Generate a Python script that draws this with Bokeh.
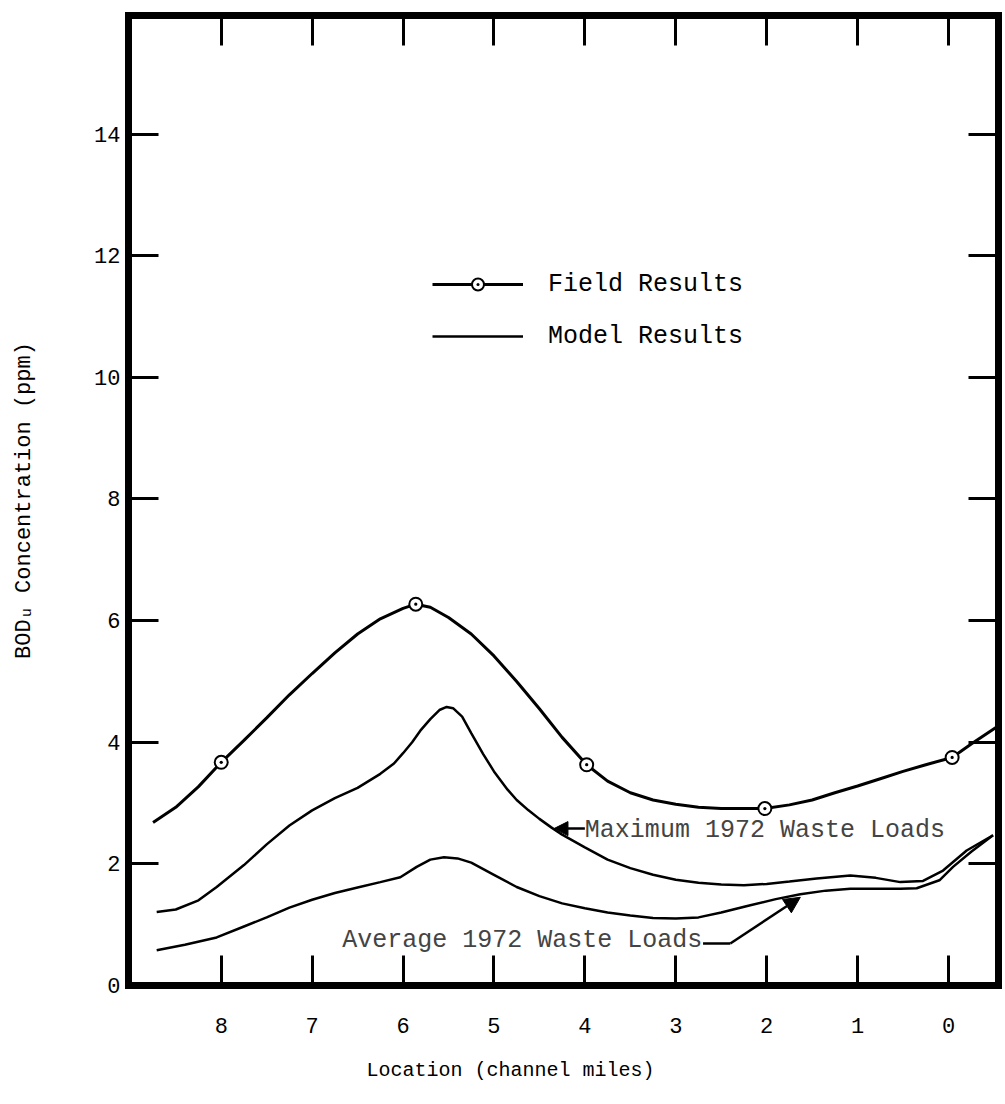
from bokeh.plotting import figure
from bokeh.models import (Range1d, LinearAxis, FixedTicker, Label, Arrow,
                          NormalHead, Legend, LegendItem, Title)
from bokeh.embed import file_html
from bokeh.resources import INLINE

# ---------------- data ----------------
x_ticks = [8, 7, 6, 5, 4, 3, 2, 1, 0]
y_ticks = [0, 2, 4, 6, 8, 10, 12, 14]
y_ticks_right = [2, 4, 6, 8, 10, 12, 14]

# Field results: measured points
field_x = [8.0, 5.86, 3.98, 2.02, -0.04]
field_y = [3.67, 6.27, 3.63, 2.91, 3.75]

# curve drawn through the field results
field_curve_x = [8.75, 8.5, 8.25, 8.0, 7.75, 7.5, 7.25, 7.0, 6.75, 6.5, 6.25,
                 6.0, 5.86, 5.7, 5.5, 5.25, 5.0, 4.75, 4.5, 4.25, 3.98, 3.75,
                 3.5, 3.25, 3.0, 2.75, 2.5, 2.25, 2.02, 1.75, 1.5, 1.25, 1.0,
                 0.75, 0.5, 0.25, -0.04, -0.25, -0.53]
field_curve_y = [2.68, 2.93, 3.27, 3.67, 4.03, 4.40, 4.78, 5.13, 5.47, 5.78,
                 6.03, 6.20, 6.27, 6.22, 6.05, 5.78, 5.42, 5.00, 4.55, 4.08,
                 3.63, 3.36, 3.17, 3.05, 2.98, 2.93, 2.91, 2.91, 2.91, 2.97,
                 3.05, 3.17, 3.28, 3.40, 3.52, 3.63, 3.75, 3.97, 4.25]

# Model results, maximum 1972 waste loads
max_x = [8.71, 8.5, 8.25, 8.05, 7.75, 7.5, 7.25, 7.0, 6.75, 6.5, 6.25, 6.1,
         6.0, 5.9, 5.81, 5.7, 5.6, 5.52, 5.45, 5.35, 5.25, 5.12, 5.0, 4.85,
         4.75, 4.62, 4.5, 4.37, 4.25, 4.0, 3.75, 3.5, 3.25, 3.0, 2.75, 2.5,
         2.25, 2.0, 1.75, 1.45, 1.08, 0.8, 0.53, 0.28, 0.06, -0.2, -0.49]
max_y = [1.21, 1.25, 1.40, 1.62, 1.98, 2.32, 2.63, 2.88, 3.08, 3.25, 3.48,
         3.65, 3.82, 4.00, 4.19, 4.38, 4.53, 4.58, 4.56, 4.42, 4.15, 3.81,
         3.52, 3.22, 3.05, 2.88, 2.74, 2.60, 2.48, 2.27, 2.07, 1.93, 1.82,
         1.74, 1.69, 1.66, 1.65, 1.67, 1.71, 1.76, 1.81, 1.77, 1.70, 1.72,
         1.89, 2.22, 2.47]

# Model results, average 1972 waste loads
avg_x = [8.71, 8.4, 8.05, 7.75, 7.5, 7.25, 7.0, 6.75, 6.5, 6.25, 6.03, 5.85,
         5.7, 5.55, 5.4, 5.25, 5.0, 4.75, 4.5, 4.25, 4.0, 3.75, 3.5, 3.25,
         3.0, 2.75, 2.5, 2.18, 1.9, 1.63, 1.35, 1.08, 0.8, 0.53, 0.35, 0.10,
         -0.05, -0.25, -0.49]
avg_y = [0.58, 0.67, 0.79, 0.97, 1.12, 1.28, 1.41, 1.52, 1.61, 1.70, 1.78,
         1.95, 2.07, 2.11, 2.09, 2.02, 1.82, 1.62, 1.47, 1.35, 1.27, 1.20,
         1.15, 1.11, 1.10, 1.12, 1.20, 1.32, 1.42, 1.50, 1.56, 1.59, 1.59,
         1.59, 1.60, 1.73, 1.95, 2.20, 2.47]

FONT = "Liberation Mono"

p = figure(width=1005, height=1104,
           x_range=Range1d(9.02, -0.55), y_range=Range1d(0, 15.95),
           output_backend="svg", toolbar_location=None,
           x_axis_location=None, y_axis_location=None,
           min_border_left=128, min_border_right=7,
           min_border_top=15, min_border_bottom=119)
p.xgrid.visible = False
p.ygrid.visible = False
p.outline_line_color = None
p.background_fill_color = "white"
p.border_fill_color = "white"


def make_axis(ticks, show_labels):
    ax = LinearAxis(ticker=FixedTicker(ticks=ticks))
    ax.axis_line_width = 7
    ax.axis_line_color = "black"
    ax.axis_line_cap = "square"
    ax.major_tick_in = 30
    ax.major_tick_out = 0
    ax.major_tick_line_width = 3
    ax.major_tick_line_color = "black"
    ax.minor_tick_line_color = None
    ax.major_label_text_font = FONT
    if show_labels:
        ax.major_label_text_font_size = "22px"
        ax.major_label_text_color = "black"
    else:
        ax.major_label_text_font_size = "0px"
        ax.major_label_text_color = None
        ax.major_label_standoff = 0
    return ax


bottom = make_axis(x_ticks, True)
bottom.major_label_standoff = 32
p.add_layout(bottom, "below")

left = make_axis(y_ticks, True)
left.major_label_standoff = 8
left.axis_label = "BOD\u1d64 Concentration (ppm)"
left.axis_label_text_font = FONT
left.axis_label_text_font_size = "22px"
left.axis_label_text_font_style = "normal"
left.axis_label_text_color = "black"
left.axis_label_standoff = 54
p.add_layout(left, "left")

p.add_layout(make_axis(x_ticks, False), "above")
p.add_layout(make_axis(y_ticks_right, False), "right")

p.add_layout(Title(text="Location (channel miles)", align="left", offset=238,
                   text_font=FONT, text_font_size="20px",
                   text_font_style="normal", text_color="black",
                   standoff=43), "below")

field_line = p.line(field_curve_x, field_curve_y, line_width=3, line_color="black")
field_marks = p.scatter(field_x, field_y, marker="circle_dot", size=13,
                        fill_color="white", line_color="black", line_width=2)
max_line = p.line(max_x, max_y, line_width=2.5, line_color="black")
avg_line = p.line(avg_x, avg_y, line_width=2.5, line_color="black")

legend = Legend(items=[LegendItem(label="Field Results", renderers=[field_line, field_marks]),
                       LegendItem(label="Model Results", renderers=[max_line])],
                location=(304, 634), orientation="vertical",
                glyph_width=91, glyph_height=30, label_height=30,
                spacing=22, label_standoff=25, padding=0, margin=0,
                border_line_color=None, background_fill_alpha=0,
                label_text_font=FONT, label_text_font_size="25px",
                label_text_color="black")
p.add_layout(legend)

# annotations
p.add_layout(Label(x=4.0, y=2.55, text="Maximum 1972 Waste Loads",
                   text_font=FONT, text_font_size="25px",
                   text_align="left", text_baseline="middle"))
p.add_layout(Arrow(x_start=4.0, y_start=2.58, x_end=4.34, y_end=2.58,
                   line_width=2.5, line_color="black",
                   end=NormalHead(size=14, fill_color="black", line_color="black")))

p.add_layout(Label(x=6.67, y=0.74, text="Average 1972 Waste Loads",
                   text_font=FONT, text_font_size="25px",
                   text_align="left", text_baseline="middle"))
p.add_layout(Arrow(x_start=2.70, y_start=0.69, x_end=2.40, y_end=0.69,
                   line_width=2.5, line_color="black", end=None))
p.add_layout(Arrow(x_start=2.40, y_start=0.69, x_end=1.63, y_end=1.45,
                   line_width=2.5, line_color="black",
                   end=NormalHead(size=16, fill_color="black", line_color="black")))

open("out.html", "w").write(file_html(p, INLINE))
